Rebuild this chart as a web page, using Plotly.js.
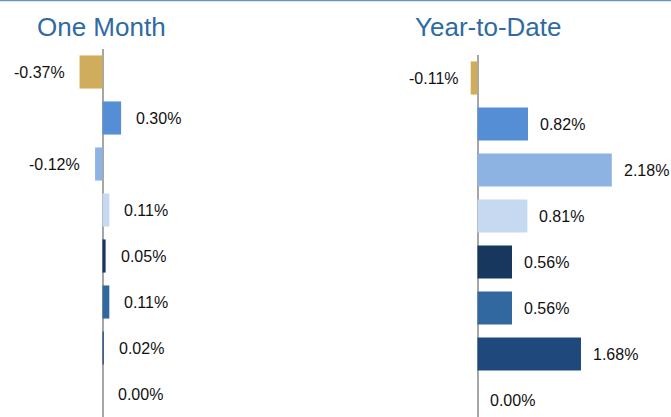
<!DOCTYPE html>
<html>
<head>
<meta charset="utf-8">
<script src="https://cdn.plot.ly/plotly-3.0.1.min.js"></script>
<style>html,body{margin:0;padding:0;background:#fff;}#chart{width:671px;height:417px;}</style>
</head>
<body>
<div id="chart"></div>
<script>
// ---- data ----
const categories = ['Cat 1', 'Cat 2', 'Cat 3', 'Cat 4', 'Cat 5', 'Cat 6', 'Cat 7', 'Cat 8'];
const oneMonth = [-0.37, 0.30, -0.12, 0.11, 0.05, 0.11, 0.02, 0.00];
const yearToDate = [-0.11, 0.82, 2.18, 0.81, 0.56, 0.56, 1.68, 0.00];
const panelTitles = ['One Month', 'Year-to-Date'];
const barColors = ['#d0ad5c', '#558ed5', '#8db3e2', '#c6d9f1', '#17375e', '#31689f', '#1f497d', '#7f7f7f'];

// ---- layout helpers ----
const W = 671, H = 417;
const FONT = '"Liberation Sans", Arial, sans-serif';
const px = v => v / W;
const py = v => 1 - v / H;
const fmt = v => v.toFixed(2) + '%';

const traces = [
  {type: 'bar', orientation: 'h', x: oneMonth, y: categories, width: 0.72,
   marker: {color: barColors}, xaxis: 'x', yaxis: 'y', hoverinfo: 'none'},
  {type: 'bar', orientation: 'h', x: yearToDate, y: categories, width: 0.72,
   marker: {color: barColors}, xaxis: 'x2', yaxis: 'y2', hoverinfo: 'none'}
];

const annotations = [];
function addLabels(vals, xref, yref, shift) {
  vals.forEach((v, i) => {
    annotations.push({
      x: v, y: categories[i], xref: xref, yref: yref,
      text: fmt(v), showarrow: false,
      xanchor: v < 0 ? 'right' : 'left', yanchor: 'middle',
      xshift: v < 0 ? -shift : shift,
      font: {family: FONT, size: 16, color: '#111111'}
    });
  });
}
addLabels(oneMonth, 'x', 'y', 13);
addLabels(yearToDate, 'x2', 'y2', 10);

annotations.push({x: px(35), y: py(27), xref: 'paper', yref: 'paper', text: panelTitles[0],
  showarrow: false, xanchor: 'left', yanchor: 'middle',
  font: {family: FONT, size: 26, color: '#2f6aa3'}});
annotations.push({x: px(413), y: py(27), xref: 'paper', yref: 'paper', text: panelTitles[1],
  showarrow: false, xanchor: 'left', yanchor: 'middle',
  font: {family: FONT, size: 26, color: '#2f6aa3'}});

const axisCommon = {showgrid: false, showticklabels: false, ticks: '', showline: false,
  zeroline: true, zerolinecolor: '#a6a6a6', zerolinewidth: 2, fixedrange: true};

const layout = {
  width: W, height: H,
  margin: {l: 0, r: 0, t: 0, b: 0},
  paper_bgcolor: '#ffffff', plot_bgcolor: 'rgba(0,0,0,0)',
  showlegend: false,
  font: {family: FONT},
  xaxis: Object.assign({}, axisCommon, {domain: [0, px(335)], range: [-102.5 / 62, 232.5 / 62], anchor: 'y'}),
  yaxis: {domain: [0, 1 - 49 / H], type: 'category', range: [7.5, -0.5], showgrid: false,
    showticklabels: false, ticks: '', zeroline: false, showline: false, anchor: 'x'},
  xaxis2: Object.assign({}, axisCommon, {domain: [px(340), 1], range: [(340 - 477.5) / 61.6, (671 - 477.5) / 61.6], anchor: 'y2'}),
  yaxis2: {domain: [0, 1 - 55 / H], type: 'category', range: [-0.5 + 362 / 46, -0.5], showgrid: false,
    showticklabels: false, ticks: '', zeroline: false, showline: false, anchor: 'x2'},
  shapes: [{type: 'line', xref: 'paper', yref: 'paper', x0: 0, x1: 1, y0: py(0.5), y1: py(0.5),
    line: {color: '#6b96c3', width: 1.5}}],
  annotations: annotations
};

Plotly.newPlot('chart', traces, layout, {displayModeBar: false, staticPlot: true});
</script>
</body>
</html>
